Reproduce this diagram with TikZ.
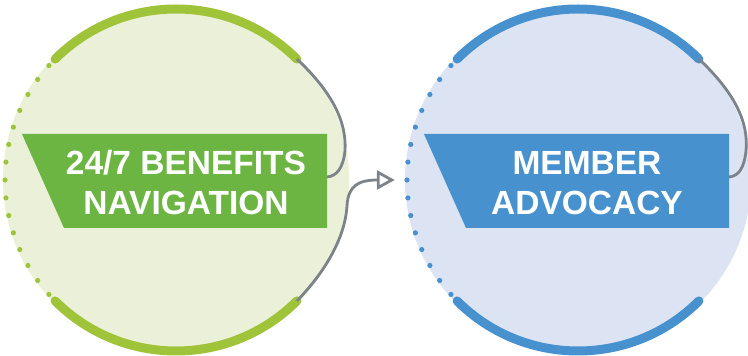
\documentclass[tikz,border=0pt]{standalone}
\usepackage{fontspec}
\setsansfont{Liberation Sans}
\usetikzlibrary{arrows.meta}

\definecolor{navfill}{HTML}{EBF0D8}
\definecolor{navrim}{HTML}{9FC43A}
\definecolor{navband}{HTML}{6DB543}
\definecolor{advfill}{HTML}{DCE4F3}
\definecolor{advrim}{HTML}{4791CE}
\definecolor{advband}{HTML}{4791CE}
\definecolor{linkgray}{HTML}{7C8389}

\begin{document}
\begin{tikzpicture}[x=1pt,y=1pt]
\tikzstyle{disc}=[circle,inner sep=0pt,minimum size=346pt];
\tikzstyle{rim}=[line width=9pt,line cap=round];
\tikzstyle{link}=[draw=linkgray,line width=2.8pt];
\tikzstyle{banner}=[text=white,font=\sffamily\bfseries\fontsize{33.5}{40}\selectfont,align=center,inner sep=0pt];
\tikzstyle{dir}=[-{Triangle[open,length=18pt,width=19pt]}];
\useasboundingbox (0,0) rectangle (748,356);
% circles
\node [disc,fill=navfill] (nav) at (176,176) {};
\node [disc,fill=advfill] (adv) at (578,176) {};
% rims and dots
\draw [rim,navrim] (nav.center) ++(45:171) arc (45:135:171);
\draw [rim,navrim] (nav.center) ++(225:171) arc (225:315:171);
\draw [rim,advrim] (adv.center) ++(45:171) arc (45:135:171);
\draw [rim,advrim] (adv.center) ++(225:171) arc (225:315:171);
\foreach \a in {138,144,...,222} {
  \fill [navrim] (nav.center) ++(\a:171) circle (2.6pt);
  \fill [advrim] (adv.center) ++(\a:171) circle (2.6pt);
}
% banners
\fill [navband] (22,222) -- (327,222) -- (327,128) -- (64,128) -- cycle;
\fill [advband] (424,222) -- (729,222) -- (729,128) -- (466,128) -- cycle;
\node [banner] (navt) at (186,173) {24/7 BENEFITS\\NAVIGATION};
\node [banner] (advt) at (587,173) {MEMBER\\ADVOCACY};
% connectors
\path (nav.center) ++(45:171) coordinate (navtop);
\path (nav.center) ++(315:171) coordinate (navbot);
\path (adv.center) ++(45:171) coordinate (advtop);
\coordinate (navedge) at (327,179);
\coordinate (advedge) at (729,179);
\draw [link] (navtop) .. controls (331,265) and (347,235) .. (345,205) .. controls (343,188) and (337,180) .. (navedge);
\draw [link] (advtop) .. controls (733,265) and (749,235) .. (746,205) .. controls (744,188) and (739,180) .. (advedge);
\draw [link,dir,shorten >=10pt] (navbot) .. controls (325,84) and (345,118) .. (347,150) .. controls (348,170) and (358,176) .. (adv.west);
\end{tikzpicture}
\end{document}
